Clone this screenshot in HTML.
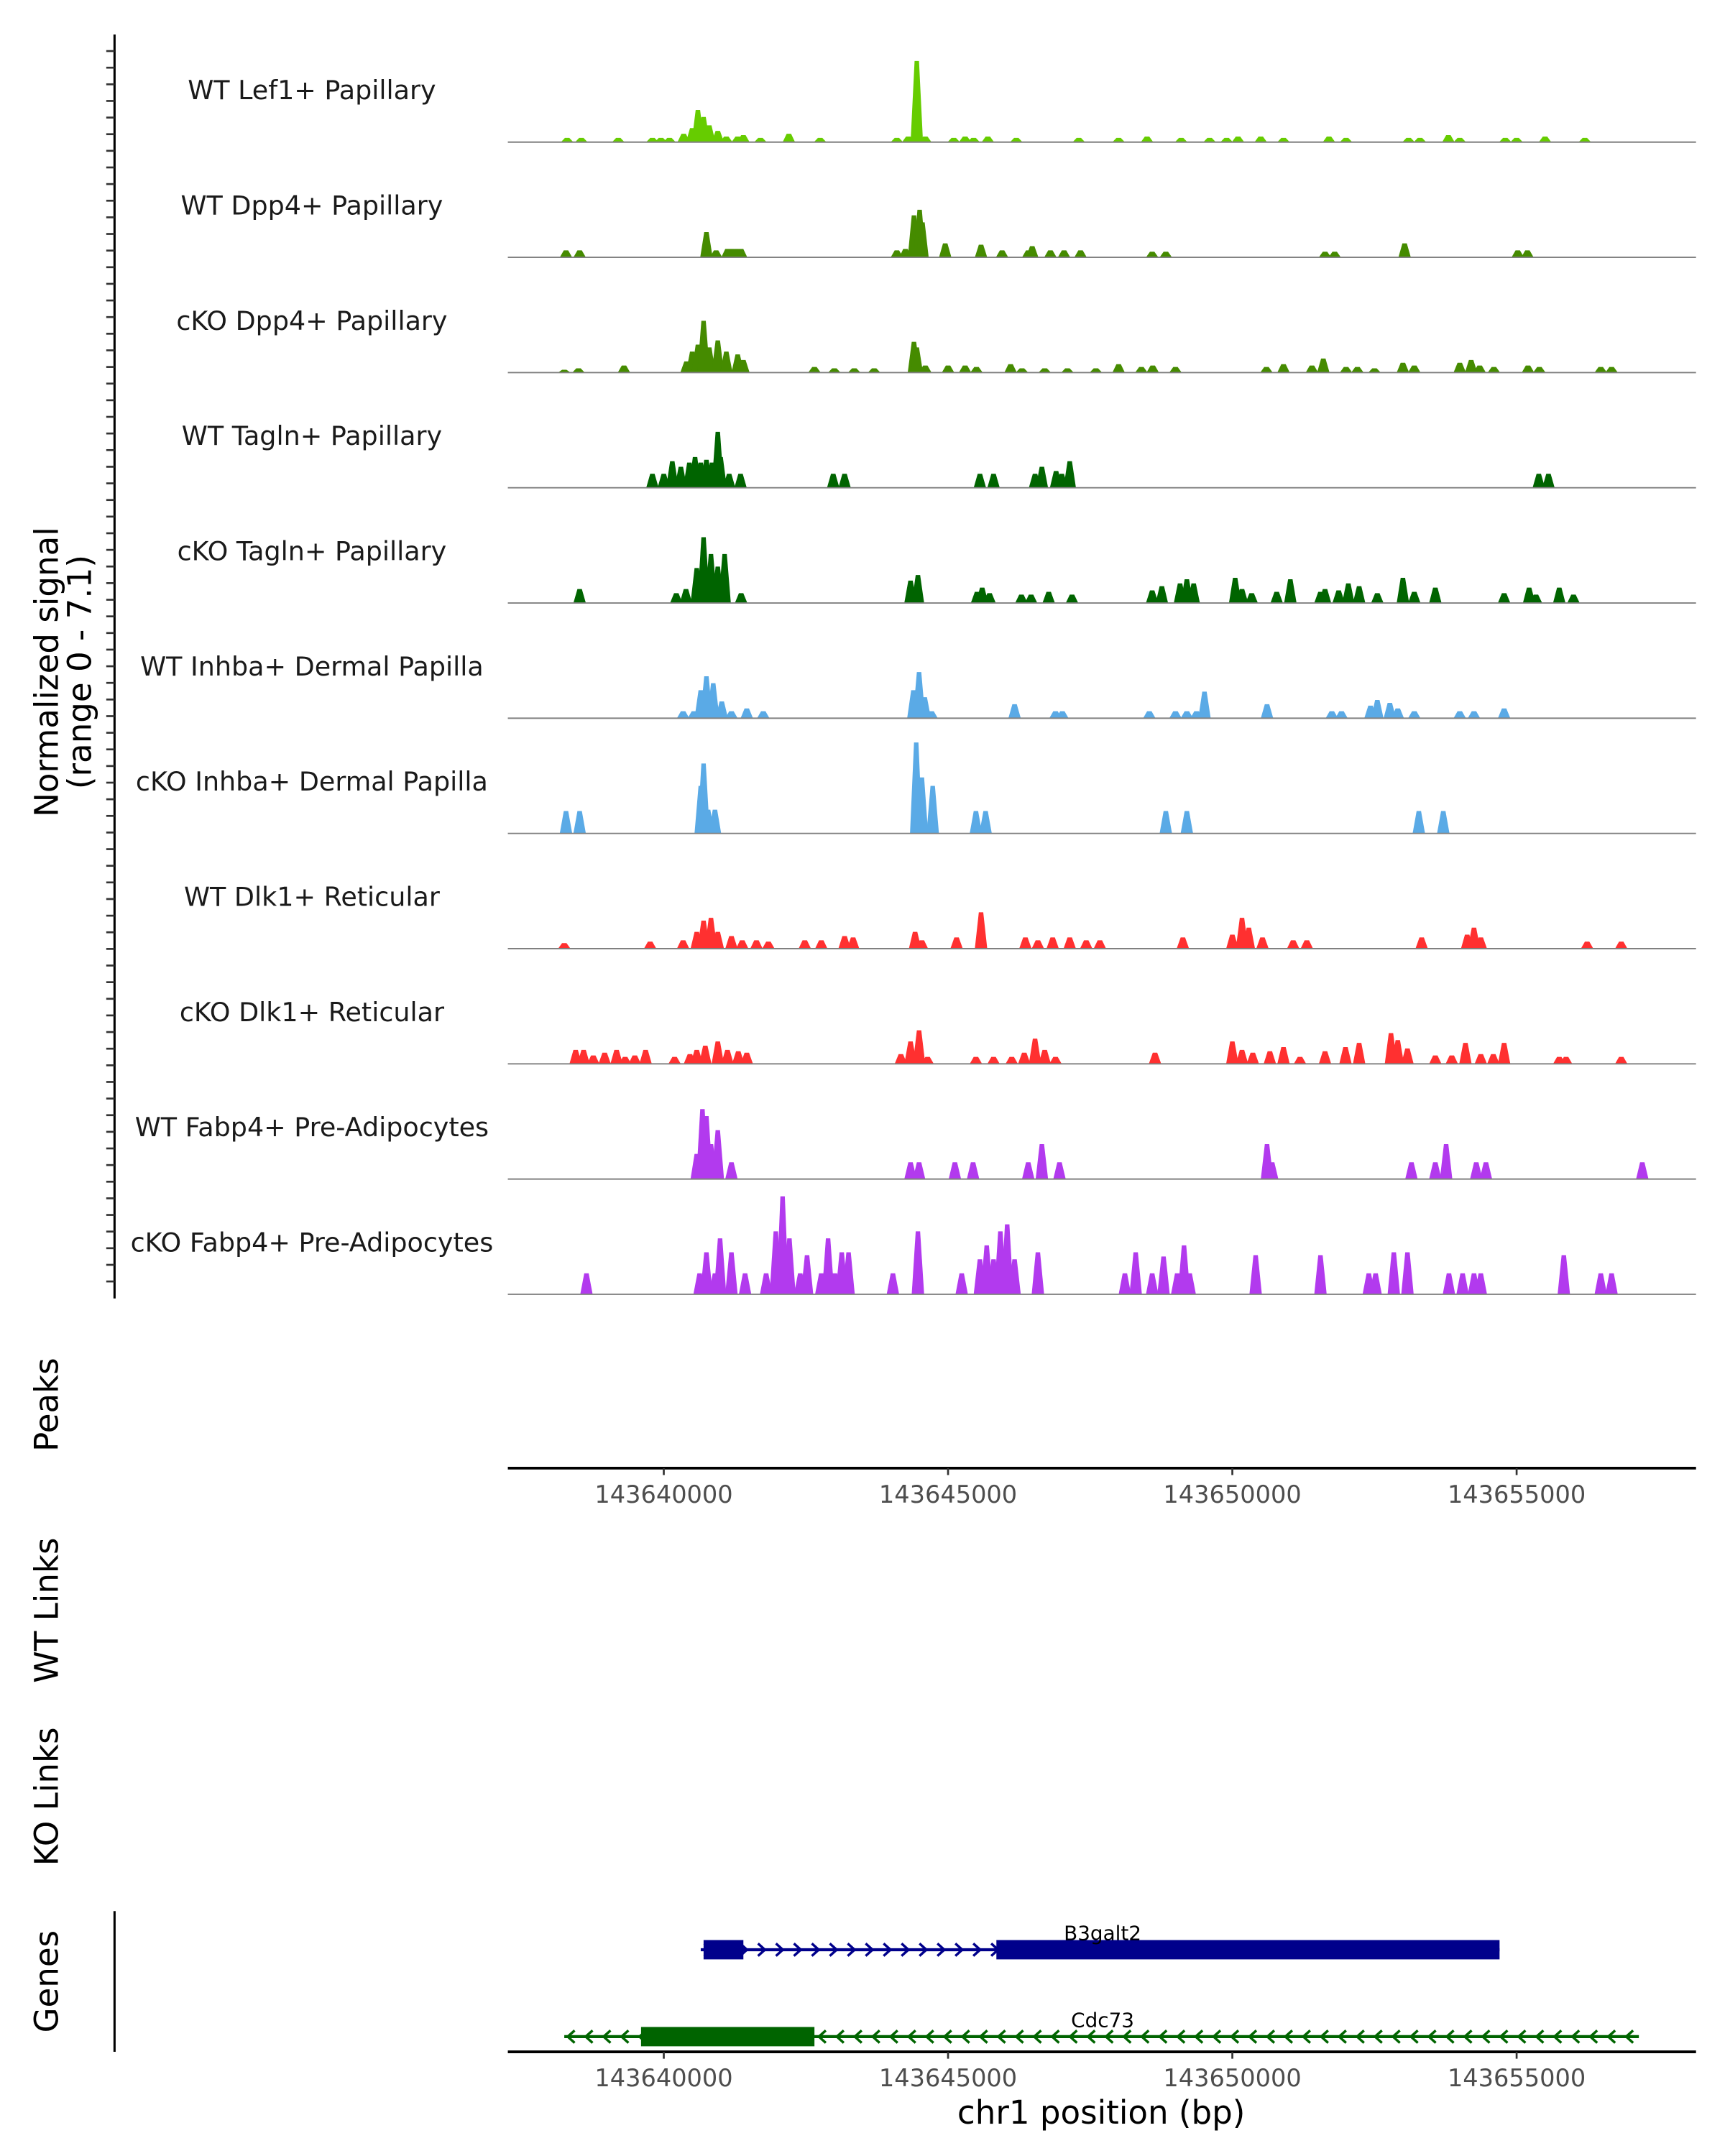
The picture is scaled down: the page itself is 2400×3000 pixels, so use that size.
<!DOCTYPE html>
<html><head><meta charset="utf-8"><style>html,body{margin:0;padding:0;background:#fff}svg{display:block}text{font-family:"DejaVu Sans","Liberation Sans",sans-serif}</style></head>
<body>
<svg id="chart" xmlns="http://www.w3.org/2000/svg" width="2400" height="3000" viewBox="0 0 1250 1562.5">
<rect x="0" y="0" width="1250" height="1562.5" fill="#fff"/>
</svg>
<script>
const ORIGIN = 143640000;
const trackNames = ["WT Lef1+ Papillary","WT Dpp4+ Papillary","cKO Dpp4+ Papillary","WT Tagln+ Papillary","cKO Tagln+ Papillary","WT Inhba+ Dermal Papilla","cKO Inhba+ Dermal Papilla","WT Dlk1+ Reticular","cKO Dlk1+ Reticular","WT Fabp4+ Pre-Adipocytes","cKO Fabp4+ Pre-Adipocytes"];
const trackColors = ["#66cc00","#458b00","#458b00","#006400","#006400","#5aaae6","#5aaae6","#ff3030","#ff3030","#b23aee","#b23aee"];
const xTicks = [143640000,143645000,143650000,143655000];
const signalMax = 7.1;
// peak positions (kb offset from ORIGIN) and signal values per track
const kb0=[-1.7,-1.45,-0.8,-0.2,-0.05,0.1,0.35,0.5,0.6,0.7,0.8,0.95,1.1,1.3,1.4,1.7,2.2,2.75,4.1,4.3,4.45,4.6,5.1,5.3,5.45,5.7,6.2,7.3,8.0,8.5,9.1,9.6,9.9,10.1,10.5,10.9,11.7,12.0,13.1,13.3,13.8,14.0,14.8,15.0,15.5,16.2];
const v0=[.3,.3,.3,.3,.3,.3,.6,1.0,2.3,1.8,1.2,.8,.4,.4,.5,.3,.6,.3,.3,.4,5.8,.4,.3,.4,.3,.4,.3,.3,.3,.4,.3,.3,.3,.4,.4,.3,.4,.3,.3,.3,.5,.3,.3,.3,.4,.3];
const kb1=[-1.72,-1.48,0.75,0.92,1.12,1.2,1.28,1.36,4.1,4.25,4.4,4.5,4.55,4.95,5.58,5.95,6.41,6.48,6.8,7.04,7.33,8.59,8.83,11.63,11.8,13.03,15.02,15.19];
const v1=[.5,.5,1.8,.5,.6,.6,.6,.6,.5,.6,3.0,3.4,2.5,1.0,.9,.5,.5,.8,.5,.5,.5,.4,.4,.4,.4,1.0,.5,.5];
const kb2=[-1.75,-1.5,-0.7,0.4,0.5,0.6,0.7,0.8,0.95,1.1,1.3,1.4,2.65,3.0,3.35,3.7,4.4,4.45,4.6,5.0,5.3,5.5,6.1,6.3,6.7,7.1,7.6,8.0,8.4,8.6,9.0,10.6,10.9,11.4,11.6,12.0,12.2,12.5,13.0,13.2,14.0,14.2,14.35,14.6,15.2,15.4,16.48,16.67];
const v2=[.2,.3,.5,.8,1.5,2.0,3.7,1.8,2.3,1.5,1.3,.9,.4,.3,.3,.3,2.2,1.8,.5,.5,.5,.4,.6,.3,.3,.3,.3,.6,.4,.5,.4,.4,.6,.5,1.0,.4,.4,.3,.7,.5,.7,.9,.5,.4,.5,.4,.4,.4];
const kb3=[-0.2,0.0,0.15,0.3,0.45,0.55,0.65,0.75,0.85,0.95,1.0,1.15,1.35,2.98,3.18,5.56,5.8,6.53,6.65,6.9,7.0,7.14,15.39,15.56];
const v3=[1.0,1.0,1.9,1.5,1.8,2.2,1.8,2.0,1.8,4.0,2.2,1.0,1.0,1.0,1.0,1.0,1.0,1.0,1.5,1.2,1.0,1.9,1.0,1.0];
const kb4=[-1.48,0.22,0.39,0.58,0.70,0.83,0.95,1.07,1.36,4.34,4.47,5.51,5.6,5.73,6.29,6.46,6.77,7.18,8.59,8.76,9.08,9.2,9.32,10.05,10.17,10.34,10.78,11.02,11.55,11.63,11.87,12.04,12.23,12.55,13.0,13.2,13.57,14.78,15.22,15.34,15.75,16.0];
const v4=[1.0,.7,1.0,2.5,4.7,3.5,2.6,3.5,.7,1.6,2.0,.8,1.1,.7,.6,.6,.8,.6,.9,1.2,1.4,1.7,1.4,1.8,1.0,.7,.8,1.7,.8,1.0,.9,1.4,1.2,.7,1.8,.8,1.1,.7,1.1,.6,1.1,.6];
const kb5=[0.34,0.53,0.65,0.75,0.87,1.02,1.19,1.46,1.75,4.39,4.49,4.59,4.71,6.17,6.89,7.01,8.54,9.0,9.2,9.37,9.51,10.61,11.75,11.92,12.43,12.55,12.77,12.91,13.2,14.0,14.25,14.78];
const v5=[.5,.5,2.0,3.0,2.5,1.2,.5,.7,.5,2.0,3.3,1.5,.5,1.0,.5,.5,.5,.5,.5,.5,1.9,1.0,.5,.5,.9,1.3,1.1,.7,.5,.5,.5,.7];
const kb6=[-1.72,-1.48,0.65,0.70,0.78,0.9,4.44,4.54,4.73,5.49,5.66,8.83,9.2,13.28,13.71];
const v6=[1.6,1.6,3.4,5.0,1.7,1.7,6.5,4.0,3.4,1.6,1.6,1.6,1.6,1.6,1.6];
const kb7=[-1.75,-0.24,0.34,0.58,0.70,0.83,0.95,1.19,1.38,1.63,1.84,2.48,2.77,3.18,3.33,4.42,4.54,5.15,5.58,6.36,6.58,6.84,7.14,7.43,7.67,9.13,10.0,10.17,10.29,10.53,11.07,11.31,13.33,14.13,14.25,14.37,16.24,16.84];
const v7=[.4,.5,.6,1.2,2.0,2.2,1.2,.9,.6,.6,.5,.6,.6,.9,.8,1.2,.6,.8,2.6,.8,.6,.8,.8,.6,.6,.8,1.0,2.2,1.5,.8,.6,.6,.8,1.0,1.5,.8,.5,.5];
const kb8=[-1.55,-1.41,-1.24,-1.04,-0.83,-0.68,-0.51,-0.32,0.19,0.46,0.58,0.73,0.95,1.12,1.31,1.46,4.17,4.34,4.49,4.64,5.49,5.8,6.12,6.34,6.53,6.7,6.89,8.64,10.0,10.17,10.36,10.66,10.9,11.19,11.63,11.99,12.23,12.79,12.91,13.08,13.57,13.86,14.1,14.37,14.59,14.78,15.75,15.87,16.84];
const v8=[1.0,1.0,.6,.8,1.0,.5,.6,1.0,.5,.7,1.0,1.3,1.6,1.0,.9,.8,.7,1.6,2.4,.5,.5,.5,.5,.8,1.8,1.0,.5,.8,1.6,1.0,.8,.9,1.2,.5,.9,1.2,1.5,2.2,1.7,1.1,.6,.6,1.5,.7,.7,1.5,.5,.5,.5];
const kb9=[0.58,0.68,0.75,0.83,0.95,1.19,4.34,4.49,5.12,5.44,6.41,6.65,6.96,10.61,10.7,13.15,13.57,13.76,14.29,14.46,17.21];
const v9=[1.8,5.0,4.5,2.5,3.5,1.2,1.2,1.2,1.2,1.2,1.2,2.5,1.2,2.5,1.2,1.2,1.2,2.5,1.2,1.2,1.2];
const kb10=[-1.36,0.63,0.75,0.9,0.99,1.19,1.43,1.8,1.97,2.09,2.21,2.4,2.52,2.77,2.89,3.01,3.13,3.25,4.03,4.47,5.24,5.56,5.68,5.8,5.92,6.04,6.17,6.58,8.11,8.3,8.59,8.79,9.03,9.15,9.25,10.41,11.55,12.4,12.52,12.84,13.08,13.81,14.05,14.25,14.37,15.83,16.48,16.67];
const v10=[1.5,1.5,3.0,1.5,4.0,3.0,1.5,1.5,4.5,7.0,4.0,1.5,2.8,1.5,4.0,1.5,3.0,3.0,1.5,4.5,1.5,2.5,3.5,2.5,4.5,5.0,2.5,3.0,1.5,3.0,1.5,2.7,1.5,3.5,1.5,2.8,2.8,1.5,1.5,3.0,3.0,1.5,1.5,1.5,1.5,2.8,1.5,1.5];
const trackKb=[kb0,kb1,kb2,kb3,kb4,kb5,kb6,kb7,kb8,kb9,kb10];
const trackVals=[v0,v1,v2,v3,v4,v5,v6,v7,v8,v9,v10];
// genes
const geneNames=["B3galt2","Cdc73"];
const geneStart=[143640650,143638250];
const geneEnd=[143654700,143657150];
const geneStrand=[1,-1];
const exonStart=[[143640700,143645850],[143639600]];
const exonEnd=[[143641400,143654700],[143642650]];

const svg=document.getElementById('chart');
const NS='http://www.w3.org/2000/svg';
const X0=368,X1=1229;
function xs(bp){return 481+(bp-143640000)*206/5000;}
function mk(tag,attrs,parent){const e=document.createElementNS(NS,tag);for(const k in attrs)e.setAttribute(k,attrs[k]);(parent||svg).appendChild(e);return e;}
function txt(s,attrs,parent){const e=mk('text',attrs,parent);e.textContent=s;return e;}
const base0=103,step=83.5,pxPerUnit=72/signalMax;
let ax=mk('line',{x1:83,y1:25,x2:83,y2:941,stroke:'#000','stroke-width':1.6});


for(let y=37;y<=940;y+=12.05){let t=mk('line',{x1:77,y1:y,x2:83,y2:y,stroke:'#333','stroke-width':1.4});

}
let yt=txt('Normalized signal',{x:0,y:0,'font-size':23.5,'text-anchor':'middle',transform:'translate(42,487) rotate(-90)'});


let yt2=txt('(range 0 - 7.1)',{x:0,y:0,'font-size':23.5,'text-anchor':'middle',transform:'translate(66,487) rotate(-90)'});


for(let i=0;i<trackNames.length;i++){
  const b=base0+i*step;
  const g=mk('g',{});
  
  
  const lb=txt(trackNames[i],{x:226,y:b-31,'font-size':19,'text-anchor':'middle',fill:'#1a1a1a'},g);
  
  
  const kbs=trackKb[i],vals=trackVals[i];
  for(let j=0;j<kbs.length;j++){
    const c=xs(ORIGIN+kbs[j]*1000),h=vals[j]*pxPerUnit;
    const p=mk('polygon',{points:`${c-4.5},${b} ${c-1.6},${b-h} ${c+1.6},${b-h} ${c+4.5},${b}`,fill:trackColors[i]},g);
    
    
  }
  const bl=mk('line',{x1:X0,y1:b,x2:X1,y2:b,stroke:'#808080','stroke-width':1},g);
  
  
}
function xaxis(y,name){
  const l=mk('line',{x1:X0,y1:y,x2:X1,y2:y,stroke:'#000','stroke-width':2});
  
  
  for(const t of xTicks){const x=xs(t);
    const tk=mk('line',{x1:x,y1:y,x2:x,y2:y+5,stroke:'#333','stroke-width':1.4});
    
    
    const tl=txt(String(t),{x:x,y:y+25,'font-size':17.5,'text-anchor':'middle',fill:'#4d4d4d'});
    
    }
}
xaxis(1064,'peaks-x-axis');
xaxis(1487,'genes-x-axis');
const sideTitles=[['Peaks',1018,'peaks-title'],['WT Links',1167,'wt-links-title'],['KO Links',1302,'ko-links-title'],['Genes',1436,'genes-title']];
for(const s of sideTitles){const e=txt(s[0],{x:0,y:0,'font-size':23.5,'text-anchor':'middle',transform:`translate(42,${s[1]}) rotate(-90)`});

}
let gl=mk('line',{x1:83,y1:1385,x2:83,y2:1487,stroke:'#000','stroke-width':1.6});


let xt=txt('chr1 position (bp)',{x:798,y:1539,'font-size':23.5,'text-anchor':'middle'});


const geneY=[1413,1476],geneCol=['#00008b','#006400'];
for(let i=0;i<geneNames.length;i++){
  const y=geneY[i],c=geneCol[i];
  const g=mk('g',{});
  
  
  const a=xs(geneStart[i]),b=xs(geneEnd[i]);
  mk('line',{x1:a,y1:y,x2:b,y2:y,stroke:c,'stroke-width':2.2},g);
  const st=geneStrand[i];
  for(let x=a+5;x<b-3;x+=13){
    const d=st>0?`M${x-2.5},${y-4.5} L${x+2.5},${y} L${x-2.5},${y+4.5}`:`M${x+2.5},${y-4.5} L${x-2.5},${y} L${x+2.5},${y+4.5}`;
    const ch=mk('path',{d:d,fill:'none',stroke:c,'stroke-width':1.8},g);
    
    
  }
  for(let k=0;k<exonStart[i].length;k++){
    const e1=xs(exonStart[i][k]),e2=xs(exonEnd[i][k]);
    const r=mk('rect',{x:e1,y:y-7,width:e2-e1,height:14,fill:c},g);
    
    
  }
  const gt=txt(geneNames[i],{x:799,y:y-7,'font-size':14.5,'text-anchor':'middle'},g);
  
  
}
</script>
</body></html>
